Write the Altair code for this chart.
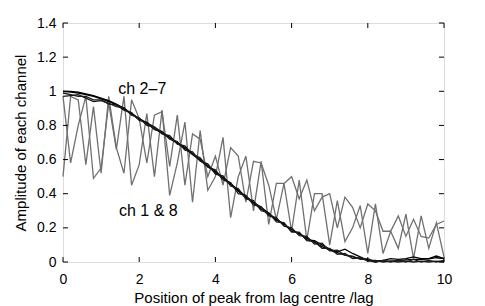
import altair as alt
import pandas as pd

xs = [0.0, 0.2, 0.4, 0.6, 0.8, 1.0, 1.2, 1.4, 1.6, 1.8, 2.0, 2.2, 2.4, 2.6, 2.8,
      3.0, 3.2, 3.4, 3.6, 3.8, 4.0, 4.2, 4.4, 4.6, 4.8, 5.0, 5.2, 5.4, 5.6, 5.8,
      6.0, 6.2, 6.4, 6.6, 6.8, 7.0, 7.2, 7.4, 7.6, 7.8, 8.0, 8.2, 8.4, 8.6, 8.8,
      9.0, 9.2, 9.4, 9.6, 9.8, 10.0]

# ch 1 & 8 (jagged, grey)
ch1 = [0.97, 0.58, 0.80, 0.97, 0.49, 0.55, 0.93, 0.66, 0.97, 0.45, 0.57, 0.87, 0.50,
       0.89, 0.39, 0.58, 0.82, 0.35, 0.77, 0.42, 0.50, 0.73, 0.26, 0.50, 0.62, 0.30,
       0.59, 0.22, 0.46, 0.46, 0.18, 0.48, 0.13, 0.40, 0.40, 0.10, 0.36, 0.12, 0.20,
       0.33, 0.05, 0.34, 0.05, 0.18, 0.08, 0.28, 0.02, 0.27, 0.08, 0.23, 0.03]
ch8 = [0.50, 0.97, 0.95, 0.57, 0.91, 0.52, 0.97, 0.67, 0.52, 0.95, 0.84, 0.58, 0.86,
       0.88, 0.56, 0.86, 0.45, 0.75, 0.72, 0.50, 0.62, 0.45, 0.67, 0.62, 0.35, 0.59,
       0.58, 0.45, 0.25, 0.46, 0.50, 0.37, 0.48, 0.30, 0.38, 0.40, 0.20, 0.38, 0.32,
       0.20, 0.34, 0.30, 0.18, 0.18, 0.27, 0.15, 0.25, 0.15, 0.14, 0.22, 0.24]

# ch 2-7 (smooth group)
chA = [1.00, 1.00, 0.995, 0.985, 0.975, 0.96, 0.945, 0.925, 0.90, 0.87, 0.84, 0.815,
       0.79, 0.76, 0.73, 0.70, 0.67, 0.635, 0.60, 0.565, 0.53, 0.495, 0.46, 0.42,
       0.385, 0.35, 0.32, 0.285, 0.25, 0.22, 0.19, 0.165, 0.14, 0.115, 0.09, 0.07,
       0.055, 0.04, 0.03, 0.02, 0.012, 0.008, 0.005, 0.005, 0.008, 0.012, 0.015,
       0.015, 0.018, 0.025, 0.02]
chB = [1.00, 0.995, 0.99, 0.98, 0.97, 0.955, 0.94, 0.92, 0.895, 0.865, 0.835, 0.81,
       0.78, 0.755, 0.725, 0.695, 0.665, 0.63, 0.595, 0.56, 0.525, 0.49, 0.455, 0.415,
       0.38, 0.345, 0.31, 0.28, 0.245, 0.225, 0.18, 0.17, 0.13, 0.125, 0.10, 0.075,
       0.06, 0.075, 0.05, 0.03, 0.01, 0.00, 0.01, 0.02, 0.015, 0.02, 0.03, 0.02,
       0.02, 0.035, 0.02]
chC = [0.97, 0.975, 0.98, 0.96, 0.94, 0.945, 0.93, 0.91, 0.905, 0.86, 0.845, 0.80,
       0.79, 0.75, 0.74, 0.69, 0.68, 0.63, 0.61, 0.555, 0.54, 0.48, 0.465, 0.40,
       0.39, 0.335, 0.325, 0.27, 0.26, 0.21, 0.20, 0.155, 0.15, 0.105, 0.11, 0.065,
       0.07, 0.04, 0.035, 0.015, 0.02, 0.00, 0.01, 0.00, 0.01, 0.00, 0.015, 0.00,
       0.01, 0.00, 0.01]
chD = [0.99, 0.98, 0.97, 0.97, 0.95, 0.95, 0.925, 0.92, 0.89, 0.875, 0.83, 0.82,
       0.775, 0.765, 0.72, 0.705, 0.655, 0.645, 0.59, 0.575, 0.515, 0.505, 0.445,
       0.43, 0.37, 0.36, 0.30, 0.29, 0.235, 0.23, 0.175, 0.175, 0.125, 0.12, 0.08,
       0.08, 0.045, 0.05, 0.02, 0.025, 0.005, 0.01, 0.00, 0.005, 0.00, 0.005, 0.00,
       0.005, 0.00, 0.005, 0.00]

series = {"ch1": ch1, "ch8": ch8, "chA": chA, "chB": chB, "chC": chC, "chD": chD}
series_names = list(series.keys())
series_colors = ["#707070", "#707070", "#000000", "#000000", "#1a1a1a", "#1a1a1a"]
series_widths = [1.3, 1.3, 2.0, 1.8, 1.0, 1.0]

x_ticks = [0, 2, 4, 6, 8, 10]
y_ticks = [0, 0.2, 0.4, 0.6, 0.8, 1.0, 1.2, 1.4]

labels_text = ["ch 2\u20137", "ch 1 & 8"]
labels_x = [1.45, 1.47]
labels_y = [1.015, 0.30]

rows = []
for name, vals in series.items():
    for xv, yv in zip(xs, vals):
        rows.append({"series": name, "x": xv, "y": yv})
df = pd.DataFrame(rows)

W, H = 381, 239
FONT = "Liberation Sans"

xscale = alt.Scale(domain=[0, 10], nice=False, zero=False)
yscale = alt.Scale(domain=[0, 1.4], nice=False)

XAX = alt.Axis(values=x_ticks, title="Position of peak from lag centre /lag",
               grid=False, ticks=False, domain=False, labelPadding=10,
               labelOverlap=False, labelFlush=False,
               labelFontSize=14, titleFontSize=15, titleFontWeight="normal",
               labelFont=FONT, titleFont=FONT, titlePadding=4,
               labelColor="#000", titleColor="#000")
YAX = alt.Axis(values=y_ticks, title="Amplitude of each channel",
               grid=False, ticks=False, domain=False, labelPadding=7,
               labelOverlap=False, labelFlush=False,
               labelFontSize=14, titleFontSize=15, titleFontWeight="normal",
               labelFont=FONT, titleFont=FONT, titlePadding=8,
               labelColor="#000", titleColor="#000",
               labelExpr="datum.value == 1 ? '1' : datum.value == 0 ? '0' : format(datum.value, '.1f')")


def X(field):
    return alt.X(field, scale=xscale, axis=XAX, title="Position of peak from lag centre /lag")


def Y(field):
    return alt.Y(field, scale=yscale, axis=YAX, title="Amplitude of each channel")


lines = alt.Chart(df).mark_line(strokeJoin="miter").encode(
    x=X("x:Q"),
    y=Y("y:Q"),
    detail="series:N",
    color=alt.Color("series:N", scale=alt.Scale(domain=series_names, range=series_colors), legend=None),
    strokeWidth=alt.StrokeWidth("series:N", scale=alt.Scale(domain=series_names, range=series_widths), legend=None),
    order=alt.Order("x:Q"),
)

xt = pd.DataFrame({"x": x_ticks})
yt = pd.DataFrame({"y": y_ticks})

tick_bottom = alt.Chart(xt).mark_rule(color="black", strokeWidth=1).encode(
    x=X("x:Q"), y=alt.value(H), y2=alt.value(H - 5))
tick_top = alt.Chart(xt).mark_rule(color="black", strokeWidth=1).encode(
    x=X("x:Q"), y=alt.value(0), y2=alt.value(5))
tick_left = alt.Chart(yt).mark_rule(color="black", strokeWidth=1).encode(
    y=Y("y:Q"), x=alt.value(0), x2=alt.value(5))
tick_right = alt.Chart(yt).mark_rule(color="black", strokeWidth=1).encode(
    y=Y("y:Q"), x=alt.value(W), x2=alt.value(W - 5))

ann = alt.Chart(pd.DataFrame({"t": labels_text, "x": labels_x, "y": labels_y})).mark_text(
    align="left", baseline="middle", fontSize=16, font=FONT, color="black"
).encode(x=X("x:Q"), y=Y("y:Q"), text="t:N")

chart = alt.layer(lines, tick_bottom, tick_top, tick_left, tick_right, ann).properties(
    width=W, height=H,
    autosize=alt.AutoSizeParams(type="none"),
    padding={"left": 55, "top": 15, "right": 20, "bottom": 44},
).configure_view(stroke="black", strokeWidth=1).configure(background="white")

chart.save("out.html", embed_options={"renderer": "svg", "actions": False})
